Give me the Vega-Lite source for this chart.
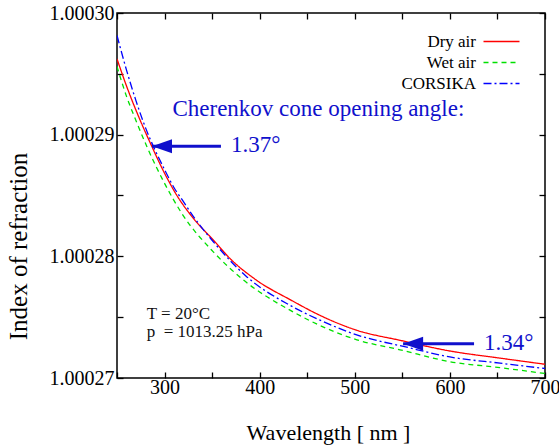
{
  "$schema": "https://vega.github.io/schema/vega-lite/v6.json",
  "width": 428,
  "height": 365,
  "autosize": {"type": "none"},
  "padding": {"left": 117, "top": 13, "right": 14, "bottom": 67},
  "background": "white",
  "config": {
    "font": "Liberation Serif",
    "view": {"stroke": "black", "strokeWidth": 1.5},
    "text": {"font": "Liberation Serif"},
    "axis": {
      "grid": false,
      "domain": false,
      "tickColor": "black",
      "tickWidth": 1.3,
      "tickSize": -6,
      "labelFont": "Liberation Serif",
      "labelFontSize": 20,
      "labelColor": "black",
      "labelFlush": false,
      "labelOverlap": false,
      "titleFont": "Liberation Serif",
      "titleFontWeight": "normal",
      "titleColor": "black"
    },
    "legend": {
      "labelFont": "Liberation Serif",
      "labelFontSize": 17,
      "labelColor": "black"
    }
  },
  "datasets": {
    "curves": [
      {"series": "Dry air", "wavelength": 250, "n": 1.00029623},
      {"series": "Dry air", "wavelength": 260, "n": 1.00029400},
      {"series": "Dry air", "wavelength": 270, "n": 1.00029200},
      {"series": "Dry air", "wavelength": 286, "n": 1.00028914},
      {"series": "Dry air", "wavelength": 300, "n": 1.00028683},
      {"series": "Dry air", "wavelength": 313, "n": 1.00028500},
      {"series": "Dry air", "wavelength": 330, "n": 1.00028315},
      {"series": "Dry air", "wavelength": 351.5, "n": 1.00028132},
      {"series": "Dry air", "wavelength": 369, "n": 1.00027981},
      {"series": "Dry air", "wavelength": 397, "n": 1.00027802},
      {"series": "Dry air", "wavelength": 432, "n": 1.00027644},
      {"series": "Dry air", "wavelength": 465, "n": 1.00027509},
      {"series": "Dry air", "wavelength": 501, "n": 1.00027395},
      {"series": "Dry air", "wavelength": 548, "n": 1.00027309},
      {"series": "Dry air", "wavelength": 600, "n": 1.00027222},
      {"series": "Dry air", "wavelength": 653, "n": 1.00027163},
      {"series": "Dry air", "wavelength": 700, "n": 1.00027113},
      {"series": "Wet air", "wavelength": 250, "n": 1.00029560},
      {"series": "Wet air", "wavelength": 260, "n": 1.00029315},
      {"series": "Wet air", "wavelength": 270, "n": 1.00029115},
      {"series": "Wet air", "wavelength": 281.5, "n": 1.00028900},
      {"series": "Wet air", "wavelength": 300, "n": 1.00028600},
      {"series": "Wet air", "wavelength": 318.3, "n": 1.00028351},
      {"series": "Wet air", "wavelength": 351.5, "n": 1.00028035},
      {"series": "Wet air", "wavelength": 381.3, "n": 1.00027816},
      {"series": "Wet air", "wavelength": 435.5, "n": 1.00027542},
      {"series": "Wet air", "wavelength": 502.2, "n": 1.00027314},
      {"series": "Wet air", "wavelength": 547.6, "n": 1.00027232},
      {"series": "Wet air", "wavelength": 600.2, "n": 1.00027134},
      {"series": "Wet air", "wavelength": 652.7, "n": 1.00027085},
      {"series": "Wet air", "wavelength": 700, "n": 1.00027037},
      {"series": "CORSIKA", "wavelength": 250, "n": 1.00029815},
      {"series": "CORSIKA", "wavelength": 260, "n": 1.00029531},
      {"series": "CORSIKA", "wavelength": 270, "n": 1.00029278},
      {"series": "CORSIKA", "wavelength": 277, "n": 1.00029119},
      {"series": "CORSIKA", "wavelength": 300, "n": 1.00028713},
      {"series": "CORSIKA", "wavelength": 311.6, "n": 1.00028543},
      {"series": "CORSIKA", "wavelength": 316.5, "n": 1.00028488},
      {"series": "CORSIKA", "wavelength": 330, "n": 1.00028331},
      {"series": "CORSIKA", "wavelength": 351.5, "n": 1.00028118},
      {"series": "CORSIKA", "wavelength": 386.6, "n": 1.00027831},
      {"series": "CORSIKA", "wavelength": 432, "n": 1.00027597},
      {"series": "CORSIKA", "wavelength": 465, "n": 1.00027470},
      {"series": "CORSIKA", "wavelength": 502, "n": 1.00027355},
      {"series": "CORSIKA", "wavelength": 554.7, "n": 1.00027253},
      {"series": "CORSIKA", "wavelength": 600, "n": 1.00027173},
      {"series": "CORSIKA", "wavelength": 652.7, "n": 1.00027122},
      {"series": "CORSIKA", "wavelength": 700, "n": 1.00027078}
    ],
    "arrows": [
      {"angle": "1.37°", "tip": 286.8, "tail": 359.3, "n": 1.00028905},
      {"angle": "1.34°", "tip": 550.8, "tail": 625.4, "n": 1.000272815}
    ]
  },
  "resolve": {"axis": {"x": "independent", "y": "independent"}},
  "layer": [
    {
      "data": {"name": "curves"},
      "mark": {"type": "line", "strokeWidth": 1.3, "interpolate": "monotone", "clip": true},
      "encoding": {
        "x": {
          "field": "wavelength", "type": "quantitative",
          "scale": {"domain": [250, 700], "nice": false},
          "axis": {
            "values": [250, 300, 350, 400, 450, 500, 550, 600, 650, 700],
            "format": "d",
            "labelExpr": "datum.value % 100 === 0 ? datum.label : ''",
            "labelFont": "Liberation Serif",
            "labelFontSize": 20,
            "labelFlush": false,
            "labelPadding": 5,
            "title": "Wavelength [ nm ]",
            "titleFontSize": 22,
            "titleX": 211,
            "titleY": 61,
            "titleAlign": "center",
            "titleBaseline": "alphabetic"
          }
        },
        "y": {
          "field": "n", "type": "quantitative",
          "scale": {"domain": [1.00027, 1.0003], "nice": false, "zero": false},
          "axis": {
            "values": [1.00027, 1.000275, 1.00028, 1.000285, 1.00029, 1.000295, 1.0003],
            "format": ".5f",
            "labelExpr": "abs(datum.value * 100000 - round(datum.value * 100000)) < 0.01 ? datum.label : ''",
            "labelFont": "Liberation Serif",
            "labelFontSize": 20,
            "labelFlush": false,
            "labelPadding": 9,
            "title": "Index of refraction",
            "titleFontSize": 25,
            "titleAngle": -90,
            "titleX": -91,
            "titleY": 233,
            "titleAlign": "center",
            "titleBaseline": "alphabetic"
          }
        },
        "color": {
          "field": "series", "type": "nominal",
          "scale": {"domain": ["Dry air", "Wet air", "CORSIKA"], "range": ["#ff0000", "#00e000", "#0000ff"]},
          "legend": {
            "title": null,
            "orient": "none",
            "legendX": 376,
            "legendY": 20,
            "labelAlign": "right",
            "labelOffset": -34,
            "symbolType": "M-3,0L3,0",
            "symbolSize": 144,
            "symbolStrokeWidth": 1.3,
            "symbolFillColor": "transparent",
            "rowPadding": 3,
            "padding": 0
          }
        },
        "strokeDash": {
          "field": "series", "type": "nominal",
          "scale": {"domain": ["Dry air", "Wet air", "CORSIKA"], "range": [[1, 0], [5, 4], [8, 3, 2, 3]]},
          "legend": {
            "title": null,
            "orient": "none",
            "legendX": 376,
            "legendY": 20,
            "labelAlign": "right",
            "labelOffset": -34,
            "symbolType": "M-3,0L3,0",
            "symbolSize": 144,
            "symbolStrokeWidth": 1.3,
            "symbolFillColor": "transparent",
            "rowPadding": 3,
            "padding": 0
          }
        }
      }
    },
    {
      "data": {"name": "arrows"},
      "mark": {"type": "rule", "strokeWidth": 3.2, "color": "#1010cc"},
      "encoding": {
        "x": {"field": "tip", "type": "quantitative", "axis": {"orient": "top", "labels": false, "title": null, "values": [250, 300, 350, 400, 450, 500, 550, 600, 650, 700]}},
        "x2": {"field": "tail"},
        "y": {"field": "n", "type": "quantitative", "axis": {"orient": "right", "labels": false, "title": null, "values": [1.00027, 1.000275, 1.00028, 1.000285, 1.00029, 1.000295, 1.0003]}}
      }
    },
    {
      "data": {"name": "arrows"},
      "mark": {"type": "point", "shape": "M0,0L2,-0.7L2,0.7Z", "size": 400, "filled": true, "opacity": 1, "color": "#1010cc", "strokeWidth": 0},
      "encoding": {
        "x": {"field": "tip", "type": "quantitative", "axis": null},
        "y": {"field": "n", "type": "quantitative", "axis": null}
      }
    },
    {
      "data": {"name": "arrows"},
      "mark": {"type": "text", "font": "Liberation Serif", "align": "left", "baseline": "middle", "dx": 10, "dy": -1, "fontSize": 23, "color": "#1010cc"},
      "encoding": {
        "x": {"field": "tail", "type": "quantitative", "axis": null},
        "y": {"field": "n", "type": "quantitative", "axis": null},
        "text": {"field": "angle"}
      }
    },
    {
      "data": {"values": [{"note": "Cherenkov cone opening angle:"}]},
      "mark": {"type": "text", "font": "Liberation Serif", "align": "left", "baseline": "middle", "fontSize": 23, "color": "#1010cc"},
      "encoding": {
        "x": {"datum": 308.3, "type": "quantitative", "axis": null},
        "y": {"datum": 1.0002921, "type": "quantitative", "axis": null},
        "text": {"field": "note"}
      }
    },
    {
      "data": {"values": [{"note": "T = 20°C"}]},
      "mark": {"type": "text", "font": "Liberation Serif", "align": "left", "baseline": "middle", "fontSize": 17, "color": "#111111"},
      "encoding": {
        "x": {"datum": 281.3, "type": "quantitative", "axis": null},
        "y": {"datum": 1.00027523, "type": "quantitative", "axis": null},
        "text": {"field": "note"}
      }
    },
    {
      "data": {"values": [{"note": "p \u00a0= 1013.25 hPa"}]},
      "mark": {"type": "text", "font": "Liberation Serif", "align": "left", "baseline": "middle", "fontSize": 17, "color": "#111111"},
      "encoding": {
        "x": {"datum": 281.3, "type": "quantitative", "axis": null},
        "y": {"datum": 1.00027379, "type": "quantitative", "axis": null},
        "text": {"field": "note"}
      }
    }
  ]
}
